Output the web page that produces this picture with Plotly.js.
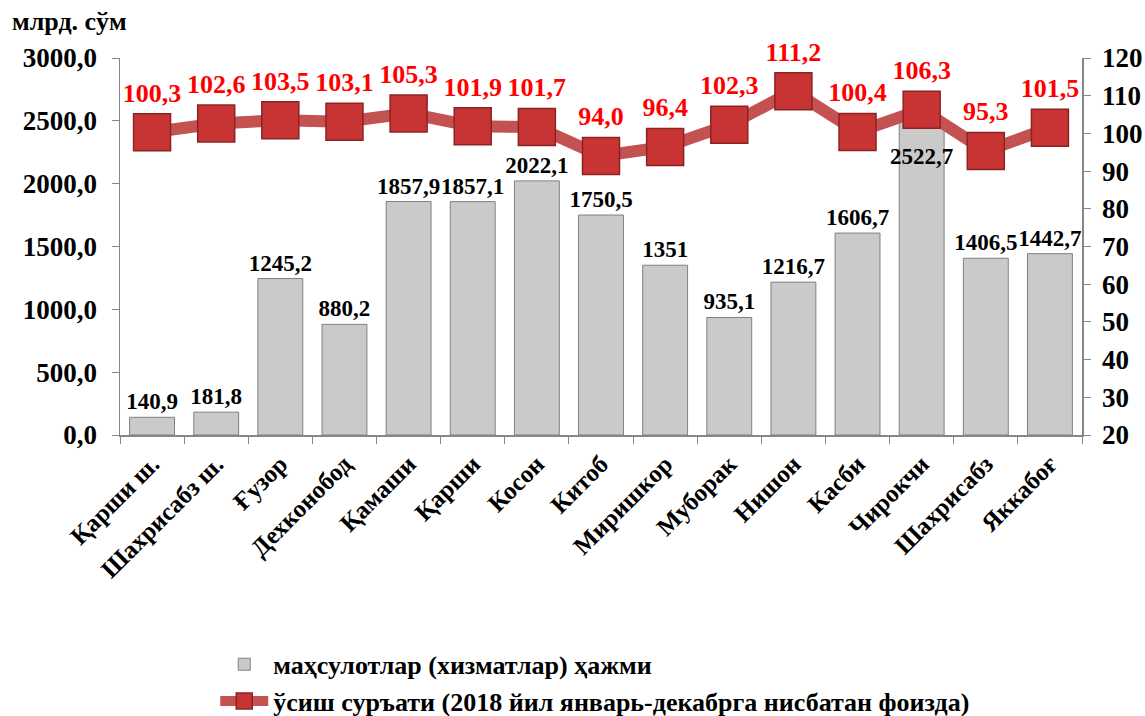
<!DOCTYPE html>
<html>
<head>
<meta charset="utf-8">
<script src="https://cdn.plot.ly/plotly-3.0.1.min.js"></script>
<style>html,body{margin:0;padding:0;background:#fff;}#chart{width:1145px;height:716px;}</style>
</head>
<body>
<div id="chart"></div>
<script>
var categories = ["Қарши ш.", "Шахрисабз ш.", "Ғузор", "Дехконобод", "Қамаши", "Қарши", "Косон", "Китоб", "Миришкор", "Муборак", "Нишон", "Касби", "Чирокчи", "Шахрисабз", "Яккабоғ"];
var volume = [140.9, 181.8, 1245.2, 880.2, 1857.9, 1857.1, 2022.1, 1750.5, 1351, 935.1, 1216.7, 1606.7, 2522.7, 1406.5, 1442.7];
var growth = [100.3, 102.6, 103.5, 103.1, 105.3, 101.9, 101.7, 94.0, 96.4, 102.3, 111.2, 100.4, 106.3, 95.3, 101.5];
var volumeName = "маҳсулотлар (хизматлар) ҳажми";
var growthName = "ўсиш суръати (2018 йил январь-декабрга нисбатан фоизда)";
var unitLabel = "млрд. сўм";

var serif = "Liberation Serif, Times New Roman, serif";
function comma(v) { return String(v).replace('.', ','); }
function comma1(v) { return v.toFixed(1).replace('.', ','); }

// the tallest bar's label sits inside the bar (below the line marker), as in the original
var tallest = volume.indexOf(Math.max.apply(null, volume));
var barText = volume.map(function (v, i) { return i === tallest ? '' : comma(v); });

var traces = [
  {
    type: 'bar', x: categories, y: volume, name: volumeName,
    text: barText, textposition: 'outside',
    constraintext: 'none', cliponaxis: false, textangle: 0,
    textfont: {family: serif, size: 23, color: '#000', weight: 'bold'},
    marker: {color: 'rgb(202,202,202)', line: {color: 'rgb(128,128,128)', width: 1}},
    hoverinfo: 'skip'
  },
  {
    type: 'scatter', mode: 'lines+markers+text', x: categories, y: growth, yaxis: 'y2', name: growthName,
    text: growth.map(comma1), textposition: 'top center', cliponaxis: false,
    textfont: {family: serif, size: 26, color: '#ff0000', weight: 'bold'},
    line: {color: 'rgb(196,82,80)', width: 12},
    marker: {symbol: 'square', size: 37, color: 'rgb(200,52,52)', line: {color: 'rgb(140,35,35)', width: 1.5}},
    hoverinfo: 'skip'
  }
];

var axisGray = 'rgb(134,134,134)';
var layout = {
  width: 1145, height: 716,
  margin: {l: 120, r: 63, t: 58, b: 281, autoexpand: false},
  paper_bgcolor: '#fff', plot_bgcolor: '#fff',
  separators: ',.',
  bargap: 0.3,
  showlegend: true,
  font: {family: serif, size: 24, color: '#000', weight: 'bold'},
  xaxis: {
    type: 'category', range: [-0.5, categories.length - 0.5], tickangle: -45, showgrid: false, automargin: false,
    showline: true, linecolor: axisGray, linewidth: 1.5,
    ticks: 'outside', tickson: 'boundaries', ticklen: 7, tickcolor: axisGray,
    ticklabelstandoff: 3,
    tickfont: {family: serif, size: 25, color: '#000', weight: 'bold'}
  },
  yaxis: {
    range: [0, 3000], dtick: 500, tickformat: '.1f', showgrid: false, zeroline: false, automargin: false,
    showline: true, linecolor: axisGray, linewidth: 1.5,
    ticks: 'outside', ticklen: 7, tickcolor: axisGray, ticklabelstandoff: 9,
    tickfont: {family: serif, size: 27, color: '#000', weight: 'bold'}
  },
  yaxis2: {
    overlaying: 'y', side: 'right', range: [20, 120], dtick: 10, showgrid: false, zeroline: false, automargin: false,
    showline: true, linecolor: axisGray, linewidth: 1.5,
    ticks: 'outside', ticklen: 7, tickcolor: axisGray, ticklabelstandoff: 6,
    tickfont: {family: serif, size: 27, color: '#000', weight: 'bold'}
  },
  legend: {
    orientation: 'v', x: 0.099, xanchor: 'left', y: -0.546, yanchor: 'top',
    font: {family: serif, size: 26, color: '#000', weight: 'bold'},
    tracegroupgap: 0, itemwidth: 48, bgcolor: 'rgba(0,0,0,0)'
  },
  annotations: [
    {xref: 'paper', yref: 'paper', x: -0.114, y: 1.0955, xanchor: 'left', yanchor: 'middle',
     text: unitLabel, showarrow: false, font: {family: serif, size: 26, color: '#000', weight: 'bold'}},
    {xref: 'x', yref: 'y', x: categories[tallest], y: volume[tallest], yanchor: 'top', yshift: -24,
     text: comma(volume[tallest]), showarrow: false, font: {family: serif, size: 23, color: '#000', weight: 'bold'}}
  ]
};

Plotly.newPlot('chart', traces, layout, {displayModeBar: false, staticPlot: true});
</script>
</body>
</html>
